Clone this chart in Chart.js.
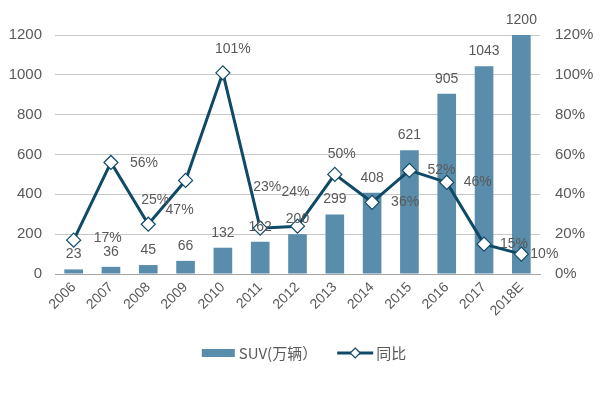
<!DOCTYPE html>
<html>
<head>
<meta charset="utf-8">
<script src="https://cdn.jsdelivr.net/npm/chart.js@4/dist/chart.umd.min.js"></script>
<style>
    html, body { margin: 0; padding: 0; background: #fff; }
    #wrap { width: 600px; height: 400px; }
</style>
</head>
<body>
<div id="wrap"><canvas id="chart" width="600" height="400"></canvas></div>
<script>
const years = ['2006', '2007', '2008', '2009', '2010', '2011', '2012', '2013', '2014', '2015', '2016', '2017', '2018E'];
const suvSales = [23, 36, 45, 66, 132, 162, 200, 299, 408, 621, 905, 1043, 1200];
const suvLabels = ['23', '36', '45', '66', '132', '162', '200', '299', '408', '621', '905', '1043', '1200'];
const growthPct = [17, 56, 25, 47, 101, 23, 24, 50, 36, 52, 46, 15, 10];
const leftTicks = [0, 200, 400, 600, 800, 1000, 1200];
const rightTicks = [0, 20, 40, 60, 80, 100, 120];

const BAR = '#5a8dab';
const LINE = '#0f4a66';
const TEXT = '#595959';
const NUM_FONT = '"Liberation Sans", Arial, sans-serif';
const CJK_FONT = '"Noto Sans CJK SC", sans-serif';

//зсув підписів відсотків відносно точок (dx, dy)
const pctLabelShift = [
    [34, -2], [33, 1], [7, -24], [-6, 30], [10, -24], [7, -41], [-2, -34],
    [7, -20], [33, 0], [32, 0], [31, 0], [30, 0], [23, 0]
];

//підписи над стовпцями та біля точок лінії
const valueLabels = {
    id: 'valueLabels',
    afterDatasetsDraw(chart) {
        const ctx = chart.ctx;
        ctx.save();
        ctx.fillStyle = TEXT;
        ctx.font = '14px ' + NUM_FONT;
        ctx.textAlign = 'center';
        ctx.textBaseline = 'middle';

        chart.getDatasetMeta(1).data.forEach((bar, i) => {
            ctx.fillText(suvLabels[i], bar.x, bar.y - 15);
        });

        chart.getDatasetMeta(0).data.forEach((pt, i) => {
            const [dx, dy] = pctLabelShift[i];
            ctx.fillText(growthPct[i] + '%', pt.x + dx, pt.y + dy);
        });
        ctx.restore();
    }
};

//легенда внизу, намальована вручну
const bottomLegend = {
    id: 'bottomLegend',
    afterDraw(chart) {
        const ctx = chart.ctx;
        const y = 353;
        ctx.save();
        ctx.font = '15px ' + CJK_FONT;
        ctx.textBaseline = 'middle';
        ctx.textAlign = 'left';

        const t1 = 'SUV(万辆）';
        const t2 = '同比';
        const w1 = ctx.measureText(t1).width;
        const w2 = ctx.measureText(t2).width;
        const total = 33 + 4 + w1 + 20 + 36 + 3 + w2;
        let x = 300 - total / 2 + 4;

        ctx.fillStyle = BAR;
        ctx.fillRect(x, y - 4, 33, 8);
        x += 37;
        ctx.fillStyle = TEXT;
        ctx.fillText(t1, x, y);
        x += w1 + 20;

        ctx.strokeStyle = LINE;
        ctx.lineWidth = 3;
        ctx.beginPath();
        ctx.moveTo(x, y);
        ctx.lineTo(x + 36, y);
        ctx.stroke();
        ctx.fillStyle = '#fff';
        ctx.strokeStyle = LINE;
        ctx.lineWidth = 1.2;
        ctx.beginPath();
        ctx.moveTo(x + 18, y - 5);
        ctx.lineTo(x + 23, y);
        ctx.lineTo(x + 18, y + 5);
        ctx.lineTo(x + 13, y);
        ctx.closePath();
        ctx.fill();
        ctx.stroke();
        x += 39;

        ctx.fillStyle = TEXT;
        ctx.fillText(t2, x, y);
        ctx.restore();
    }
};

new Chart(document.getElementById('chart').getContext('2d'), {
    data: {
        labels: years,
        datasets: [
            {
                type: 'line',
                label: '同比',
                data: growthPct,
                yAxisID: 'yR',
                borderColor: LINE,
                borderWidth: 3,
                pointStyle: 'rectRot',
                pointRadius: 7,
                pointBackgroundColor: '#fff',
                pointBorderColor: LINE,
                pointBorderWidth: 1.2,
                tension: 0,
                order: 0
            },
            {
                type: 'bar',
                label: 'SUV(万辆）',
                data: suvSales,
                yAxisID: 'yL',
                backgroundColor: BAR,
                barPercentage: 0.5,
                categoryPercentage: 1,
                order: 1
            }
        ]
    },
    options: {
        responsive: false,
        animation: false,
        layout: { padding: { top: 35, left: 0, right: 0, bottom: 0 } },
        plugins: {
            legend: { display: false },
            tooltip: { enabled: false }
        },
        scales: {
            x: {
                grid: { display: false, drawTicks: false },
                border: { color: '#a6a6a6', width: 1 },
                ticks: {
                    color: TEXT,
                    font: { family: NUM_FONT, size: 14 },
                    minRotation: 45,
                    maxRotation: 45,
                    padding: 5
                },
                afterFit(scale) { scale.height = 126; }
            },
            yL: {
                position: 'left',
                min: 0,
                max: 1200,
                afterBuildTicks(scale) { scale.ticks = leftTicks.map(v => ({ value: v })); },
                grid: { color: '#c8c8c8', drawTicks: false },
                border: { display: false },
                ticks: {
                    color: TEXT,
                    font: { family: NUM_FONT, size: 15 },
                    padding: 13,
                    callback: v => String(v)
                },
                afterFit(scale) { scale.width = 55; }
            },
            yR: {
                position: 'right',
                min: 0,
                max: 120,
                afterBuildTicks(scale) { scale.ticks = rightTicks.map(v => ({ value: v })); },
                grid: { display: false, drawTicks: false },
                border: { display: false },
                ticks: {
                    color: TEXT,
                    font: { family: NUM_FONT, size: 15 },
                    padding: 15,
                    callback: v => v + '%'
                },
                afterFit(scale) { scale.width = 60; }
            }
        }
    },
    plugins: [valueLabels, bottomLegend]
});
</script>
</body>
</html>
